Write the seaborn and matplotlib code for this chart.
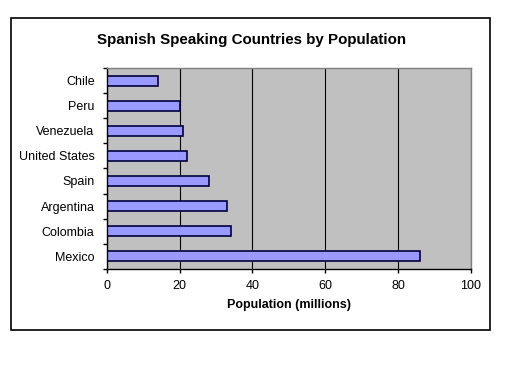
import numpy as np
import matplotlib
matplotlib.use("Agg")
import matplotlib.pyplot as plt
import seaborn as sns
import pandas as pd
from matplotlib.patches import Rectangle

countries = ["Chile", "Peru", "Venezuela", "United States", "Spain", "Argentina", "Colombia", "Mexico"]
population = [14, 20, 21, 22, 28, 33, 34, 86]
xticks = [0, 20, 40, 60, 80, 100]

data = pd.DataFrame({"Country": countries, "Population": population})

sns.set_style("white")
plt.rcParams['font.family'] = ['Liberation Sans', 'DejaVu Sans']
plt.rcParams['text.color'] = 'black'
plt.rcParams['axes.labelcolor'] = 'black'
plt.rcParams['xtick.color'] = 'black'
plt.rcParams['ytick.color'] = 'black'

fig = plt.figure(figsize=(5.21, 3.67), dpi=100)
ax = fig.add_axes([0.2054, 0.268, 0.698, 0.546])

sns.barplot(data=data, y="Country", x="Population", orient="h", order=countries,
            color="#9999FF", edgecolor="#000040", linewidth=1.2, width=0.4,
            saturation=1, ax=ax)

ax.set_facecolor("#C0C0C0")
ax.set_xlim(0, 100)
ax.set_ylim(len(countries) - 0.5, -0.5)
ax.set_xticks(xticks)
ax.set_xticklabels([str(t) for t in xticks], fontsize=9)
ax.set_yticks(range(len(countries)))
ax.set_yticklabels(countries, fontsize=9)
ax.set_yticks(np.arange(-0.5, len(countries), 1.0), minor=True)
ax.tick_params(axis="y", which="major", left=True, length=0, pad=9)
ax.tick_params(axis="y", which="minor", left=True, length=3, width=1,
               direction="out", color="black")
ax.tick_params(axis="x", bottom=True, length=3, width=1, direction="out",
               color="black", pad=5)
ax.xaxis.grid(True, color="black", linewidth=0.8)
ax.set_axisbelow(True)
for s in ["top", "right"]:
    ax.spines[s].set_color("#808080")
for s in ["left", "bottom"]:
    ax.spines[s].set_color("black")
for s in ax.spines.values():
    s.set_visible(True)
    s.set_linewidth(1)

ax.set_ylabel("")
ax.set_xlabel("Population (millions)", fontsize=9, fontweight="bold", labelpad=5)

fig.text(0.482, 0.89, "Spanish Speaking Countries by Population",
         ha="center", va="center", fontsize=10.9, fontweight="bold")

fig.patches.append(Rectangle((11 / 521, 1 - 330 / 367), 479 / 521, 312 / 367,
                             transform=fig.transFigure, fill=False,
                             edgecolor="black", linewidth=1.2))

fig.savefig("out.png", dpi=100)
